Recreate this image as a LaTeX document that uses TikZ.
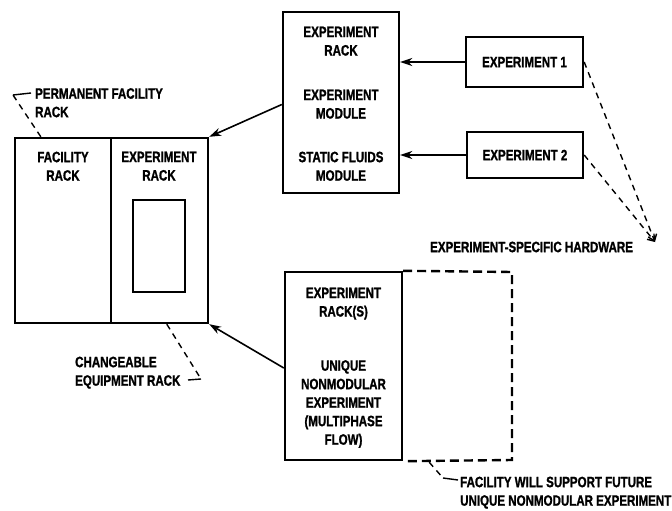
\documentclass[tikz,border=0pt]{standalone}
\usepackage{fontspec}
\setmainfont{Liberation Sans}[FakeStretch=0.77,FakeBold=1.2]
\usetikzlibrary{arrows.meta,calc}
\newcommand{\lett}{\bfseries\fontsize{15}{18.5}\selectfont}
\begin{document}
\begin{tikzpicture}[x=1pt,y=-1pt,
  box/.style={draw,line width=2.4pt,inner sep=0pt,font=\lett},
  lbl/.style={font=\lett,align=center,inner sep=0pt,anchor=north},
  note/.style={font=\lett,align=left,inner sep=0pt,anchor=north west},
  arr/.style={line width=1.6pt,-{Stealth[length=12pt,width=8pt]}},
  lead/.style={line width=1.4pt,dash pattern=on 6pt off 5pt},
  hook/.style={line width=1.4pt},
  dashline/.style={line width=2.4pt,dash pattern=on 9pt off 5pt}]
\useasboundingbox (0,0) rectangle (672,511);

% left facility
\node[box,minimum width=96pt,minimum height=185pt] (fac) at (63,230.5) {};
\node[box,minimum width=97pt,minimum height=185pt] (xr) at (159.5,230.5) {};
\node[box,minimum width=52pt,minimum height=92pt] (win) at (159,246) {};
\node[lbl] (facT) at (63,151.5) {FACILITY\\RACK};
\node[lbl] (xrT) at (159,151.5) {EXPERIMENT\\RACK};

% middle rack
\node[box,minimum width=116pt,minimum height=181pt] (mid) at (341,102.5) {};
\node[lbl] (m1) at (341,26.5) {EXPERIMENT\\RACK};
\node[lbl] (m2) at (341,89.5) {EXPERIMENT\\MODULE};
\node[lbl] (m3) at (341,151.5) {STATIC FLUIDS\\MODULE};

% experiments
\node[box,minimum width=117pt,minimum height=50pt] (e1) at (524.5,62) {EXPERIMENT 1};
\node[box,minimum width=116pt,minimum height=46pt] (e2) at (525,155) {EXPERIMENT 2};

% bottom rack
\node[box,minimum width=117pt,minimum height=188pt] (bot) at (343.5,366) {};
\node[lbl] (b1) at (343.5,287.5) {EXPERIMENT\\RACK(S)};
\node[lbl] (b2) at (343.5,360) {UNIQUE\\NONMODULAR\\EXPERIMENT\\(MULTIPHASE\\FLOW)};
\coordinate (futNE) at (512,272);
\coordinate (futSE) at (512,460);
\draw[dashline] (bot.north east) -- (futNE) -- (futSE) -- (bot.south east);

% arrows
\draw[arr] (e1.west) -- (e1.west -| mid.east);
\draw[arr] (e2.west) -- (e2.west -| mid.east);
\draw[arr] ($(mid.west)+(0,2)$) -- (xr.north east);
\draw[arr] ($(bot.west)+(0,2)$) -- (xr.south east);

% annotations
\node[note] (pfT) at (35,88) {PERMANENT FACILITY\\RACK};
\coordinate (pfc) at (13,95);
\coordinate (pfe) at (31,93);
\draw[lead] ($(fac.north west)+(27,0)$) -- (pfc);
\draw[hook] (pfc) -- (pfe);

\node[note] (ceT) at (75,356.5) {CHANGEABLE\\EQUIPMENT RACK};
\coordinate (cec) at (201,379);
\coordinate (cee) at (188,380);
\draw[lead] ($(xr.south west)+(57,0)$) -- (cec);
\draw[hook] (cec) -- (cee);

\node[font=\lett,inner sep=0pt,anchor=west] (esT) at (430,247) {EXPERIMENT-SPECIFIC HARDWARE};
\coordinate (esTip) at (655,242);
\draw[lead,-{Straight Barb[length=6pt,width=9pt]}] (e1.east) -- (esTip);
\draw[lead,-{Straight Barb[length=6pt,width=9pt]}] (e2.east) -- (esTip);

\node[note] (fsT) at (460,476.5) {FACILITY WILL SUPPORT FUTURE\\UNIQUE NONMODULAR EXPERIMENT};
\coordinate (fsc) at (443,478);
\coordinate (fse) at (458,480);
\draw[lead] ($(bot.south east)+(26,1)$) -- (fsc);
\draw[hook] (fsc) -- (fse);
\end{tikzpicture}
\end{document}
